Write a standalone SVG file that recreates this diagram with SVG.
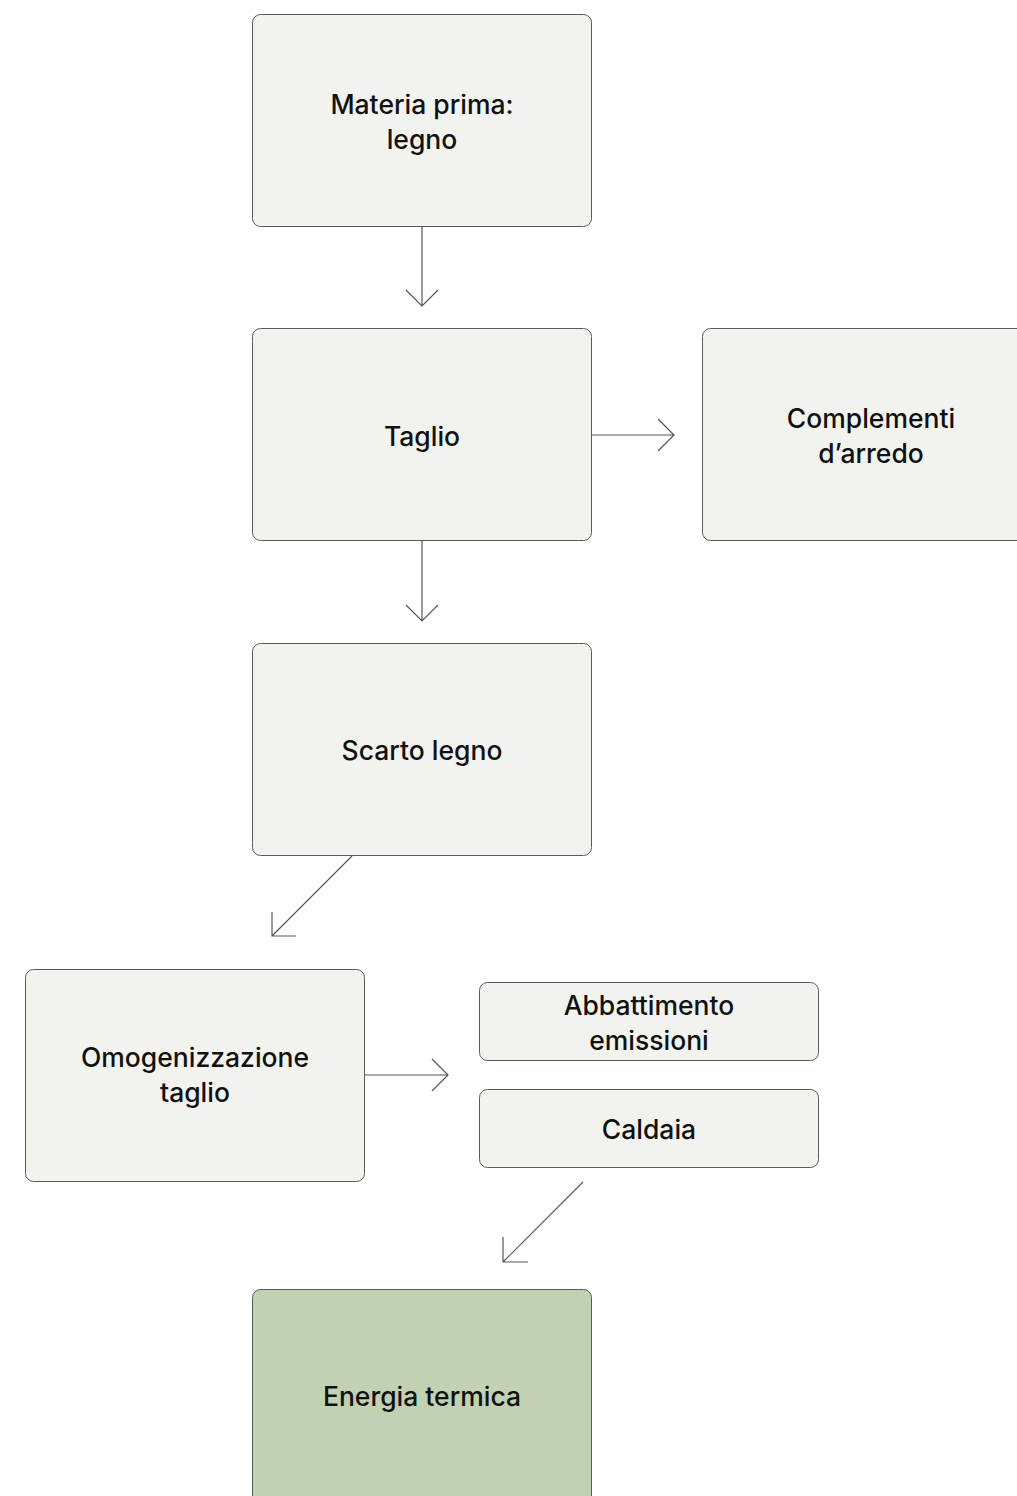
<svg xmlns="http://www.w3.org/2000/svg" width="1017" height="1496" viewBox="0 0 1017 1496">
<style>
.n{fill:#f2f3ef;stroke:#5a5a5a;stroke-width:1}
.g{fill:#c0d2b2;stroke:#5a5a5a;stroke-width:1}
.t{font-family:Inter,"Liberation Sans",sans-serif;font-size:26.5px;font-weight:500;fill:#111;text-anchor:middle}
.c{fill:none;stroke:#555;stroke-width:1.2}
</style>
<rect width="1017" height="1496" fill="#ffffff"/>
<g id="connectors">
<path class="c" d="M422 227V306M406 290L422 306L438 290"/>
<path class="c" d="M591 435H674M658 419L674 435L658 451"/>
<path class="c" d="M422 541V621M406 605L422 621L438 605"/>
<path class="c" d="M352 856L272 936M272 912V936H296"/>
<path class="c" d="M364 1075H448M432 1059L448 1075L432 1091"/>
<path class="c" d="M583 1182L503 1262M503 1237V1262H528"/>
</g>
<g id="materia">
<rect class="n" x="252.5" y="14.5" width="339" height="212" rx="8"/>
<text class="t" x="422" y="114">Materia prima:</text>
<text class="t" x="422" y="149">legno</text>
</g>
<g id="taglio">
<rect class="n" x="252.5" y="328.5" width="339" height="212" rx="8"/>
<text class="t" x="422" y="446">Taglio</text>
</g>
<g id="complementi">
<rect class="n" x="702.5" y="328.5" width="339" height="212" rx="8"/>
<text class="t" x="871" y="428">Complementi</text>
<text class="t" x="871" y="463">d’arredo</text>
</g>
<g id="scarto">
<rect class="n" x="252.5" y="643.5" width="339" height="212" rx="8"/>
<text class="t" x="422" y="760">Scarto legno</text>
</g>
<g id="omogenizzazione">
<rect class="n" x="25.5" y="969.5" width="339" height="212" rx="8"/>
<text class="t" x="195" y="1067">Omogenizzazione</text>
<text class="t" x="195" y="1102">taglio</text>
</g>
<g id="abbattimento">
<rect class="n" x="479.5" y="982.5" width="339" height="78" rx="8"/>
<text class="t" x="649" y="1015">Abbattimento</text>
<text class="t" x="649" y="1050">emissioni</text>
</g>
<g id="caldaia">
<rect class="n" x="479.5" y="1089.5" width="339" height="78" rx="8"/>
<text class="t" x="649" y="1139">Caldaia</text>
</g>
<g id="energia">
<rect class="g" x="252.5" y="1289.5" width="339" height="230" rx="8"/>
<text class="t" x="422" y="1406">Energia termica</text>
</g>
</svg>
